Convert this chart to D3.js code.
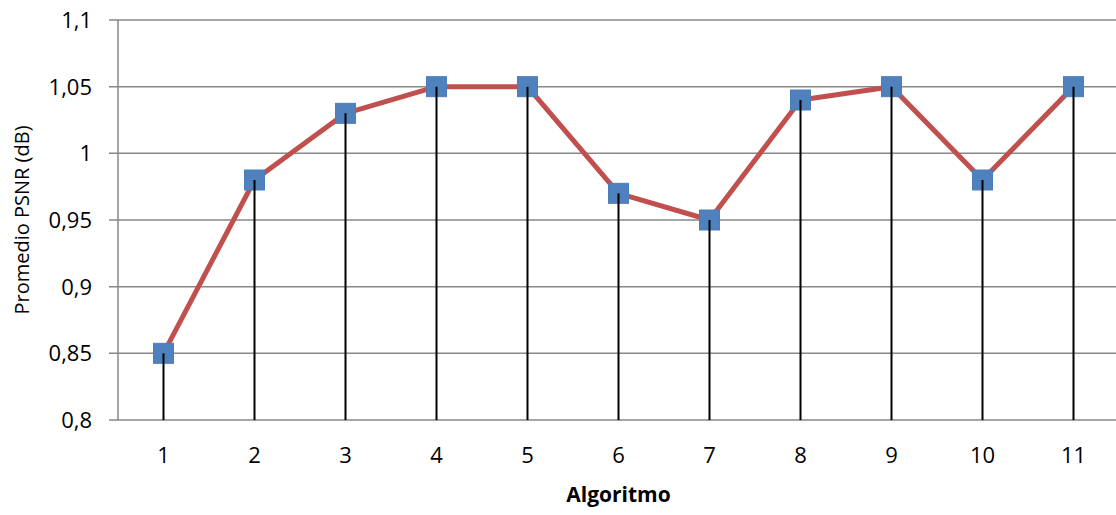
<!DOCTYPE html>
<html>
<head>
<meta charset="utf-8">
<script src="https://cdn.jsdelivr.net/npm/d3@7"></script>
<style>
  body { margin: 0; background: #fff; }
  text { font-family: "Open Sans", sans-serif; fill: #000; }
</style>
</head>
<body>
<div id="chart"></div>
<script>
const algoritmos = ["1", "2", "3", "4", "5", "6", "7", "8", "9", "10", "11"];
const psnr = [0.85, 0.98, 1.03, 1.05, 1.05, 0.97, 0.95, 1.04, 1.05, 0.98, 1.05];
const yTicks = [0.8, 0.85, 0.9, 0.95, 1, 1.05, 1.1];

const width = 1116, height = 515;
const svg = d3.select("#chart").append("svg")
  .attr("width", width).attr("height", height);

const x = d3.scaleBand().domain(algoritmos).range([118, 1119]).padding(0);
const y = d3.scaleLinear().domain([0.8, 1.1]).range([420, 20]);

const fmt = (v) => d3.format("")(v).replace(".", ",");

// gridlines + tick marks
svg.append("g").selectAll("line").data(yTicks).join("line")
  .attr("x1", 109).attr("x2", width)
  .attr("y1", (d) => y(d)).attr("y2", (d) => y(d))
  .attr("stroke", "#878787").attr("stroke-width", 1.5);

// y axis line
svg.append("line")
  .attr("x1", 118).attr("x2", 118)
  .attr("y1", y(1.1)).attr("y2", y(0.8))
  .attr("stroke", "#878787").attr("stroke-width", 1.5);

// y tick labels
svg.append("g").selectAll("text").data(yTicks).join("text")
  .attr("x", 92).attr("y", (d) => y(d) + 8)
  .attr("text-anchor", "end")
  .style("font-size", "22px")
  .text(fmt);

// x tick labels
svg.append("g").selectAll("text").data(algoritmos).join("text")
  .attr("x", (d) => x(d) + x.bandwidth() / 2).attr("y", 463)
  .attr("text-anchor", "middle")
  .style("font-size", "22px")
  .text((d) => d);

// series line
const line = d3.line()
  .x((d, i) => x(algoritmos[i]) + x.bandwidth() / 2)
  .y((d) => y(d));

svg.append("path").datum(psnr)
  .attr("d", line)
  .attr("fill", "none")
  .attr("stroke", "#C0504D")
  .attr("stroke-width", 5)
  .attr("stroke-linejoin", "round");

// markers
const ms = 20;
svg.append("g").selectAll("rect").data(psnr).join("rect")
  .attr("x", (d, i) => x(algoritmos[i]) + x.bandwidth() / 2 - ms / 2)
  .attr("y", (d) => y(d) - ms / 2)
  .attr("width", ms).attr("height", ms)
  .attr("fill", "#4F81BD")
  .attr("stroke", "#4A7EBB").attr("stroke-width", 1);

// drop lines
svg.append("g").selectAll("line").data(psnr).join("line")
  .attr("x1", (d, i) => x(algoritmos[i]) + x.bandwidth() / 2)
  .attr("x2", (d, i) => x(algoritmos[i]) + x.bandwidth() / 2)
  .attr("y1", (d) => y(d)).attr("y2", y(0.8))
  .attr("stroke", "#000").attr("stroke-width", 2);

// axis titles
svg.append("text")
  .attr("transform", `translate(29,${(y(0.8) + y(1.1)) / 2}) rotate(-90)`)
  .attr("text-anchor", "middle")
  .style("font-size", "20px")
  .text("Promedio PSNR (dB)");

svg.append("text")
  .attr("x", (118 + 1119) / 2).attr("y", 502)
  .attr("text-anchor", "middle")
  .style("font-size", "21px").style("font-weight", "bold")
  .text("Algoritmo");
</script>
</body>
</html>
